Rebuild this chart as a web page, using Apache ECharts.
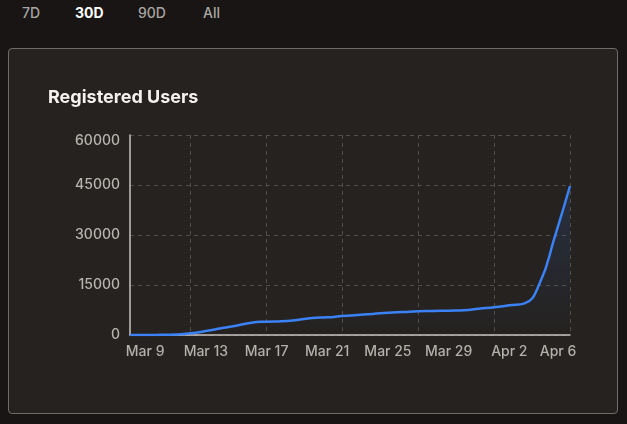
<!DOCTYPE html>
<html>
<head>
<meta charset="utf-8">
<script src="https://cdn.jsdelivr.net/npm/echarts@6/dist/echarts.min.js"></script>
<style>
  html, body { margin:0; padding:0; width:627px; height:424px; background:#181514; overflow:hidden; font-family: Inter, "Noto Sans", sans-serif; }
  .tab { position:absolute; top:4px; font-size:14px; color:#a9a5a1; font-weight:500; line-height:18px; }
  .tab.active { color:#ffffff; font-weight:700; }
  #card { position:absolute; left:8px; top:48px; width:608px; height:364px; background:#252220; border:1px solid #6e6b68; border-radius:4px; }
  #chart { position:absolute; left:0; top:0; width:627px; height:424px; }
</style>
</head>
<body>
<div class="tab" style="left:22px">7D</div>
<div class="tab active" style="left:75px">30D</div>
<div class="tab" style="left:138px">90D</div>
<div class="tab" style="left:203px">All</div>
<div id="card"></div>
<div id="chart"></div>
<script>
const dates = ['Mar 8','Mar 9','Mar 10','Mar 11','Mar 12','Mar 13','Mar 14','Mar 15','Mar 16','Mar 17',
  'Mar 18','Mar 19','Mar 20','Mar 21','Mar 22','Mar 23','Mar 24','Mar 25','Mar 26','Mar 27',
  'Mar 28','Mar 29','Mar 30','Mar 31','Apr 1','Apr 2','Apr 3','Apr 4','Apr 5','Apr 6'];
const users = [0, 0, 50, 150, 500, 1200, 2000, 2800, 3700, 4000,
  4100, 4500, 5100, 5300, 5700, 6000, 6300, 6700, 6900, 7100,
  7200, 7300, 7400, 7900, 8300, 8900, 9500, 15500, 29500, 44700];
const yTicks = [0, 15000, 30000, 45000, 60000];

const FONT = 'Inter, "Noto Sans", sans-serif';
const chart = echarts.init(document.getElementById('chart'), null, {renderer:'canvas'});
chart.setOption({
  backgroundColor: 'transparent',
  animation: false,
  title: {
    text: 'Registered Users', left: 43, top: 84,
    textStyle: { color:'#f4f2f0', fontSize:18, fontWeight:'bold', fontFamily:FONT }
  },
  grid: { left:130, right:57, top:135, bottom:89, containLabel:false },
  xAxis: {
    type:'category', data: dates, boundaryGap:false,
    axisLine: { show:true, lineStyle:{ color:'#c9c5c1', width:1.5 } },
    axisTick: { show:false },
    axisLabel: {
      color:'#b3afab', fontSize:14, fontWeight:500, margin:10, fontFamily:FONT,
      interval: function(i){ return (i-1) % 4 === 0; },
      formatter: function(v, i){ return i === dates.length-1 ? '{last|' + v + '}' : v; },
      rich: { last: { color:'#b3afab', fontSize:14, fontWeight:500, padding:[0,24,0,0], fontFamily:FONT } }
    },
    splitLine: { show:true, interval: function(i){ return (i+1) % 5 === 0; },
      lineStyle:{ color:'#514d4a', type:[4,4], width:1 } }
  },
  yAxis: {
    type:'value', min: yTicks[0], max: yTicks[yTicks.length-1], interval: yTicks[1]-yTicks[0],
    axisLine: { show:true, lineStyle:{ color:'#c9c5c1', width:1.5 } },
    axisTick: { show:false },
    axisLabel: { color:'#b8b4b0', fontSize:14, fontWeight:500, margin:10, fontFamily:FONT,
      formatter: function(v){ return v === yTicks[yTicks.length-1] ? '{top|' + v + '}' : String(v); },
      rich: { top: { color:'#b8b4b0', fontSize:14, fontWeight:500, padding:[11,0,0,0], fontFamily:FONT } } },
    splitLine: { show:true, lineStyle:{ color:'#514d4a', type:[4,4], width:1 } }
  },
  series: [{
    type:'line', data: users, smooth:0.5, showSymbol:false,
    lineStyle: { color:'#3b82f6', width:2.5 },
    areaStyle: { color: new echarts.graphic.LinearGradient(0,0,0,1,[
      {offset:0, color:'rgba(59,130,246,0.22)'},
      {offset:1, color:'rgba(59,130,246,0.0)'}
    ]) }
  }]
});
</script>
</body>
</html>
